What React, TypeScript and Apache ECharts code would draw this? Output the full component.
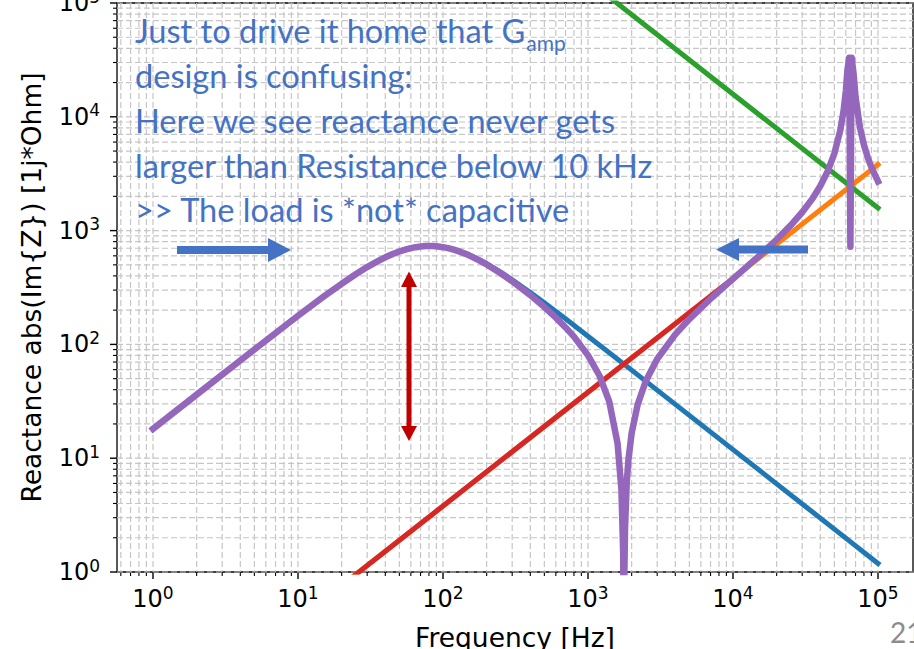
import React, { useEffect, useRef } from 'react';
import * as echarts from 'echarts';

// ---- data ----
const freqBlue = [1, 2, 5, 10, 15, 20, 25, 30, 35, 40, 45, 50, 55, 60, 65, 70, 77, 85, 92, 100, 110, 120, 135, 150, 175, 200, 250, 300, 400, 500, 700, 1000, 2000, 5000, 10000, 20000, 50000, 100000];
const blueX = [18.1, 36.3, 90.4, 179, 263, 342, 414, 479, 535, 584, 624, 657, 683, 703, 717, 727, 734, 734, 729, 719, 702, 682, 648, 615, 560, 512, 431, 370, 286, 232, 168, 118, 59.4, 23.8, 11.9, 5.95, 2.38, 1.19];

const freqOrange = [1, 100000];
const orangeX = [0.038, 3800];

const freqGreen = [1, 100000];
const greenX = [158100000, 1581];

const freqRed = [1, 10000];
const redX = [0.038, 380];

const freqPurple = [1, 2, 5, 10, 15, 20, 25, 30, 35, 40, 45, 50, 55, 60, 65, 70, 77, 85, 92, 100, 110, 120, 135, 150, 175, 200, 250, 300, 400, 500, 600, 700, 800, 1000, 1200, 1400, 1600, 1700, 1750, 1765, 1780, 1800, 1850, 1900, 2000, 2200, 2500, 3000, 4000, 5000, 7000, 10000, 15000, 20000, 25000, 30000, 35000, 40000, 45000, 50000, 55000, 58000, 60000, 61500, 63300, 64500, 65800, 68000, 70000, 75000, 80000, 85000, 90000, 100000];
const purpleX = [18.1, 36.2, 90.2, 178.6, 262.4, 341, 413, 478, 534, 582.5, 622, 655, 681, 700.7, 715, 724, 731, 731, 725.5, 715, 698, 677, 643, 609, 553, 504, 421.5, 359, 271, 213, 172, 141, 117, 80, 53, 31.6, 13.4, 5.3, 1.4, 0.05, 0.88, 2.4, 6.1, 9.7, 16.6, 29.6, 47.4, 74.5, 122.5, 167, 252, 377, 594, 834, 1112, 1450, 1880, 2465, 3326, 4755, 7650, 11500, 16900, 25700, 33000, 720, 33000, 23200, 14950, 8094, 5646, 4385, 3611, 2707];

const xTicks = [1, 10, 100, 1000, 10000, 100000];
const yTicks = [1, 10, 100, 1000, 10000, 100000];

const noteLines = [
  'Just to drive it home that G',
  'design is confusing:',
  'Here we see reactance never gets',
  'larger than Resistance below 10 kHz',
  '>> The load is *not* capacitive',
];
const noteSub = 'amp';

const X_MIN = 0.5646;
const X_MAX = 174300;
const Y_MIN = 1;
const Y_MAX = 100000;

const zip = (a: number[], b: number[]) => a.map((v, i) => [v, b[i]]);

function minorOf(majors: number[], lo: number, hi: number) {
  const out: number[] = [];
  for (const m of [0.1, ...majors]) {
    for (let k = 2; k <= 9; k++) {
      const v = m * k;
      if (v > lo && v < hi) out.push(v);
    }
  }
  return out;
}

const tickFmt = (v: number) => {
  const e = Math.log10(v);
  const r = Math.round(e);
  if (Math.abs(e - r) > 1e-6) return '';
  return `{b|10}{e|${r}}`;
};

const labelRich = {
  b: { fontFamily: 'DejaVu Sans', fontSize: 24, color: '#000', lineHeight: 30 },
  e: { fontFamily: 'DejaVu Sans', fontSize: 17, color: '#000', verticalAlign: 'top', lineHeight: 17 },
};

export default function App() {
  const ref = useRef<HTMLDivElement>(null);
  useEffect(() => {
    const chart = echarts.init(ref.current!, null, { renderer: 'svg' });
    const FS = 32.6;
    const SUB = 21;
    const ctx = document.createElement('canvas').getContext('2d')!;
    ctx.font = `${FS}px Lato`;
    const wFirst = ctx.measureText(noteLines[0]).width;
    const baselines = [43, 88, 133, 178, 222];
    const midOff = 0.387 * FS;

    const minorX = minorOf(xTicks, X_MIN, X_MAX);
    const minorY = minorOf(yTicks, Y_MIN, Y_MAX);
    const xGrid = [...xTicks.map((v) => [v, 1, 1]), ...minorX.map((v) => [v, 1, 0])];
    const yGrid = [...yTicks.map((v) => [1, v, 1]), ...minorY.map((v) => [1, v, 0])];
    const gridStyle = { stroke: '#c6c6c6', lineWidth: 1.2, lineDash: [6, 3] };

    const lineSeries = (data: number[][], color: string, width: number) => ({
      type: 'line',
      data,
      showSymbol: false,
      symbol: 'none',
      z: 3,
      silent: true,
      lineStyle: { color, width, cap: 'square', join: 'round' },
    });

    const option: any = {
      animation: false,
      grid: {
        left: 117, top: 3, width: 796, height: 569, show: true, borderColor: '#000', borderWidth: 1.3,
        backgroundColor: 'transparent', containLabel: false, outerBoundsMode: 'none',
      },
      xAxis: {
        type: 'log', logBase: 10, min: X_MIN, max: X_MAX,
        axisLine: { show: false }, axisTick: { show: false }, splitLine: { show: false },
        axisLabel: { formatter: tickFmt, rich: labelRich, margin: 12, showMinLabel: false, showMaxLabel: false },
        name: 'Frequency [Hz]', nameLocation: 'middle', nameGap: 52,
        nameTextStyle: { fontFamily: 'DejaVu Sans', fontSize: 26.5, color: '#000' },
      },
      yAxis: {
        type: 'log', logBase: 10, min: Y_MIN, max: Y_MAX,
        axisLine: { show: false }, axisTick: { show: false }, splitLine: { show: false },
        axisLabel: { formatter: tickFmt, rich: labelRich, margin: 17 },
        name: 'Reactance abs(Im{Z}) [1j*Ohm]', nameLocation: 'middle', nameGap: 72,
        nameTextStyle: { fontFamily: 'DejaVu Sans', fontSize: 26.5, color: '#000' },
      },
      series: [
        {
          type: 'custom', z: 1, silent: true, clip: false, data: xGrid,
          renderItem: (params: any, api: any) => {
            const cs = params.coordSys;
            const x = api.coord([api.value(0), 1])[0];
            const major = api.value(2) === 1;
            const bottom = cs.y + cs.height;
            return {
              type: 'group', children: [
                { type: 'line', shape: { x1: x, y1: cs.y, x2: x, y2: bottom }, style: gridStyle },
                { type: 'line', shape: { x1: x, y1: bottom, x2: x, y2: bottom + (major ? 7 : 4) }, style: { stroke: '#000', lineWidth: major ? 1.4 : 1.1 } },
              ],
            };
          },
        },
        {
          type: 'custom', z: 1, silent: true, clip: false, data: yGrid,
          renderItem: (params: any, api: any) => {
            const cs = params.coordSys;
            const y = api.coord([1, api.value(1)])[1];
            const major = api.value(2) === 1;
            return {
              type: 'group', children: [
                { type: 'line', shape: { x1: cs.x, y1: y, x2: cs.x + cs.width, y2: y }, style: gridStyle },
                { type: 'line', shape: { x1: cs.x - (major ? 7 : 4), y1: y, x2: cs.x, y2: y }, style: { stroke: '#000', lineWidth: major ? 1.4 : 1.1 } },
              ],
            };
          },
        },
        lineSeries(zip(freqBlue, blueX), '#1f77b4', 5),
        lineSeries(zip(freqOrange, orangeX), '#ff7f0e', 5),
        lineSeries(zip(freqGreen, greenX), '#2ca02c', 5),
        lineSeries(zip(freqRed, redX), '#d62728', 5),
        lineSeries(zip(freqPurple, purpleX), '#9467bd', 6.5),
      ],
      graphic: [
        ...noteLines.map((t, i) => ({
          type: 'text', x: 135, y: baselines[i] - midOff, z: 10, silent: true,
          style: { text: t, fill: '#4472c4', fontFamily: 'Lato', fontSize: FS, verticalAlign: 'middle', align: 'left' },
        })),
        {
          type: 'text', x: 135 + wFirst + 1, y: 51 - 0.387 * SUB, z: 10, silent: true,
          style: { text: noteSub, fill: '#4472c4', fontFamily: 'Lato', fontSize: SUB, verticalAlign: 'middle', align: 'left' },
        },
        {
          type: 'polygon', z: 10, silent: true,
          shape: { points: [[177, 246], [268, 246], [268, 238], [291, 250], [268, 262], [268, 254], [177, 254]] },
          style: { fill: '#4472c4' },
        },
        {
          type: 'polygon', z: 10, silent: true,
          shape: { points: [[716, 249.5], [739, 238], [739, 245.5], [808, 245.5], [808, 253.5], [739, 253.5], [739, 261]] },
          style: { fill: '#4472c4' },
        },
        {
          type: 'polygon', z: 10, silent: true,
          shape: { points: [[409, 271.5], [417, 287], [411.5, 287], [411.5, 426], [417, 426], [409, 441], [401, 426], [406.5, 426], [406.5, 287], [401, 287]] },
          style: { fill: '#c00000' },
        },
        {
          type: 'text', x: 890, y: 643 - 0.387 * 28, z: 10, silent: true,
          style: { text: '21', fill: '#8c8c8c', fontFamily: 'Lato', fontSize: 28, verticalAlign: 'middle', align: 'left' },
        },
      ],
    };
    chart.setOption(option);
    return () => chart.dispose();
  }, []);
  return <div ref={ref} style={{ position: 'absolute', left: 0, top: 0, width: 914, height: 649 }} />;
}
